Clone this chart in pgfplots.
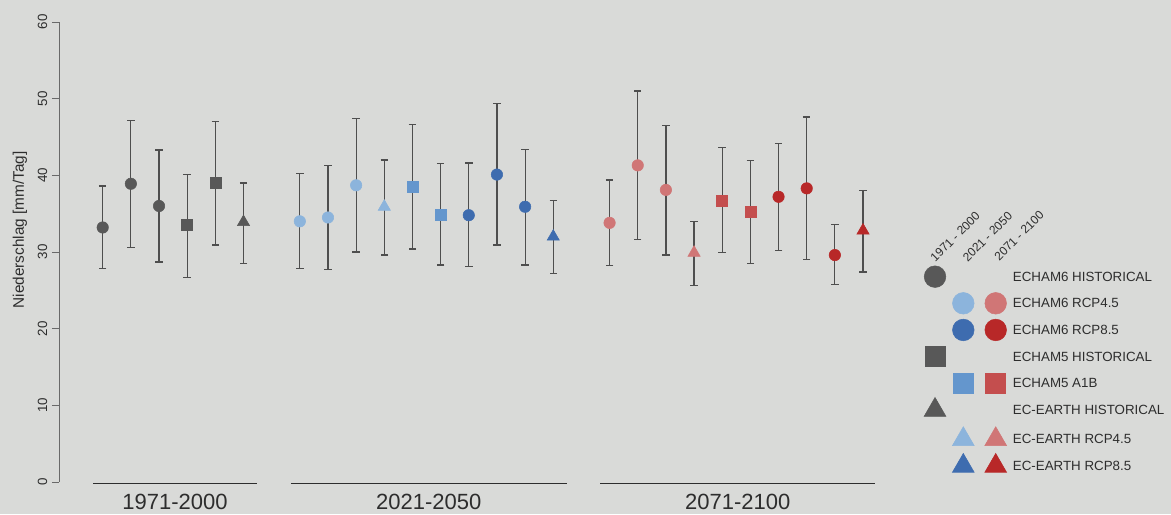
\documentclass[border=0pt]{standalone}
\usepackage{pgfplots}
\pgfplotsset{compat=1.18}
\usepackage{pgfplotstable}
\usepackage{fontspec}
\setmainfont{Liberation Sans}
\usetikzlibrary{backgrounds}

\definecolor{bgcol}{RGB}{217,218,216}
\definecolor{axcol}{RGB}{105,105,105}
\definecolor{txtcol}{RGB}{45,45,45}
\definecolor{errcol}{RGB}{78,78,78}
\definecolor{hist}{RGB}{88,88,88}
\definecolor{lblue}{RGB}{140,180,220}
\definecolor{mblue}{RGB}{100,150,205}
\definecolor{dblue}{RGB}{62,108,175}
\definecolor{lred}{RGB}{208,118,118}
\definecolor{mred}{RGB}{196,78,78}
\definecolor{dred}{RGB}{184,40,40}

% columns: position, mean, lower and upper end of the range
\pgfplotstableread{
x y lo hi
1 33.2 27.8 38.6
2 38.9 30.6 47.2
3 36.0 28.7 43.3
}\echamSixHist
\pgfplotstableread{
x y lo hi
4 33.5 26.7 40.1
5 39.0 30.9 47.0
}\echamFiveHist
\pgfplotstableread{
x y lo hi
6 33.9 28.5 39.0
}\ecearthHist
\pgfplotstableread{
x y lo hi
8 34.0 27.8 40.2
9 34.5 27.7 41.3
10 38.7 30.0 47.4
}\echamSixFourMid
\pgfplotstableread{
x y lo hi
11 35.9 29.6 42.0
}\ecearthFourMid
\pgfplotstableread{
x y lo hi
12 38.5 30.4 46.6
13 34.9 28.3 41.5
}\echamFiveMid
\pgfplotstableread{
x y lo hi
14 34.8 28.1 41.6
15 40.1 30.9 49.4
16 35.9 28.3 43.4
}\echamSixEightMid
\pgfplotstableread{
x y lo hi
17 32.0 27.2 36.7
}\ecearthEightMid
\pgfplotstableread{
x y lo hi
19 33.8 28.2 39.4
20 41.3 31.6 51.0
21 38.1 29.6 46.5
}\echamSixFourEnd
\pgfplotstableread{
x y lo hi
22 29.9 25.6 34.0
}\ecearthFourEnd
\pgfplotstableread{
x y lo hi
23 36.7 29.9 43.6
24 35.2 28.5 41.9
}\echamFiveEnd
\pgfplotstableread{
x y lo hi
25 37.2 30.2 44.2
26 38.3 29.0 47.6
27 29.6 25.8 33.6
}\echamSixEightEnd
\pgfplotstableread{
x y lo hi
28 32.8 27.4 38.0
}\ecearthEightEnd

\pgfplotsset{
  errs/.style={
    error bars/.cd, y dir=both, y explicit,
    error bar style={draw=errcol, line width=0.9pt, solid},
    error mark=-,
    error mark options={rotate=90, draw=errcol, line width=0.9pt, mark size=2.8pt}},
  circ/.style={only marks, mark=*, mark size=4.3pt, color=#1},
  sq/.style={only marks, mark=square*, mark size=4.1pt, color=#1},
  tri/.style={only marks, mark=triangle*, mark size=5.3pt, color=#1},
  lcirc/.style={only marks, mark=*, mark size=8.1pt, color=#1},
  lsq/.style={only marks, mark=square*, mark size=7.5pt, color=#1},
  ltri/.style={only marks, mark=triangle*, mark size=9.4pt, color=#1},
}
% one model run per point: range as bar with caps, mean as filled mark
\newcommand{\series}[2]{\addplot[#1, errs] table[x=x, y=y,
  y error plus expr=\thisrow{hi}-\thisrow{y},
  y error minus expr=\thisrow{y}-\thisrow{lo}] {#2};}

\begin{document}
\begin{tikzpicture}
\begin{axis}[
  x=21.12pt, y=5.75pt,
  xmin=-0.552, xmax=28.5, ymin=0, ymax=60,
  axis x line=none, axis y line=left,
  y axis line style={-, draw=axcol, line width=0.6pt},
  ytick={0,10,...,60},
  tick align=outside, major tick length=5.25pt,
  ytick style={draw=axcol, line width=0.6pt},
  /pgf/number format/assume math mode=true,
  yticklabel style={rotate=90, anchor=south, font=\fontsize{10}{12}\selectfont, text=txtcol},
  ylabel={Niederschlag [mm/Tag]},
  ylabel style={at={(axis description cs:-0.0477,0.548)}, anchor=center,
    font=\fontsize{11.5}{13}\selectfont, text=txtcol},
  clip=false,
]
% overall extent of the figure
\path (axis cs:-2.647,-4.174) rectangle (axis cs:38.937,62.87);

\series{circ=hist}{\echamSixHist}
\series{sq=hist}{\echamFiveHist}
\series{tri=hist}{\ecearthHist}
\series{circ=lblue}{\echamSixFourMid}
\series{tri=lblue}{\ecearthFourMid}
\series{sq=mblue}{\echamFiveMid}
\series{circ=dblue}{\echamSixEightMid}
\series{tri=dblue}{\ecearthEightMid}
\series{circ=lred}{\echamSixFourEnd}
\series{tri=lred}{\ecearthFourEnd}
\series{sq=mred}{\echamFiveEnd}
\series{circ=dred}{\echamSixEightEnd}
\series{tri=dred}{\ecearthEightEnd}

% period brackets
\addplot[draw=txtcol, line width=0.8pt] coordinates {(0.656,-0.17) (6.48,-0.17)};
\addplot[draw=txtcol, line width=0.8pt] coordinates {(7.68,-0.17) (17.48,-0.17)};
\addplot[draw=txtcol, line width=0.8pt] coordinates {(18.67,-0.17) (28.42,-0.17)};
\node[font=\fontsize{16.5}{18}\selectfont, text=txtcol] at (axis cs:3.57,-2.61) {1971-2000};
\node[font=\fontsize{16.5}{18}\selectfont, text=txtcol] at (axis cs:12.58,-2.61) {2021-2050};
\node[font=\fontsize{16.5}{18}\selectfont, text=txtcol] at (axis cs:23.55,-2.61) {2071-2100};

% legend
\node[rotate=45, inner sep=0pt, font=\fontsize{9}{10}\selectfont, text=txtcol] at (axis cs:31.27,31.99) {1971 - 2000};
\node[rotate=45, inner sep=0pt, font=\fontsize{9}{10}\selectfont, text=txtcol] at (axis cs:32.42,31.99) {2021 - 2050};
\node[rotate=45, inner sep=0pt, font=\fontsize{9}{10}\selectfont, text=txtcol] at (axis cs:33.54,32.11) {2071 - 2100};

\addplot[lcirc=hist] coordinates {(30.557,26.78)};
\addplot[lcirc=lblue] coordinates {(31.561,23.31)};
\addplot[lcirc=lred] coordinates {(32.712,23.31)};
\addplot[lcirc=dblue] coordinates {(31.561,19.83)};
\addplot[lcirc=dred] coordinates {(32.712,19.83)};
\addplot[lsq=hist] coordinates {(30.557,16.34)};
\addplot[lsq=mblue] coordinates {(31.561,12.87)};
\addplot[lsq=mred] coordinates {(32.712,12.87)};
\addplot[ltri=hist] coordinates {(30.557,9.39)};
\addplot[ltri=lblue] coordinates {(31.561,5.57)};
\addplot[ltri=lred] coordinates {(32.712,5.57)};
\addplot[ltri=dblue] coordinates {(31.561,2.09)};
\addplot[ltri=dred] coordinates {(32.712,2.09)};

\foreach \v/\t in {26.78/ECHAM6 HISTORICAL, 23.31/ECHAM6 RCP4.5, 19.83/ECHAM6 RCP8.5,
  16.34/ECHAM5 HISTORICAL, 12.87/ECHAM5 A1B, 9.39/EC-EARTH HISTORICAL,
  5.57/EC-EARTH RCP4.5, 2.09/EC-EARTH RCP8.5}{
  \edef\tmp{\noexpand\node[anchor=west, inner sep=0pt, font=\noexpand\fontsize{10}{12}\noexpand\selectfont, text=txtcol] at (axis cs:33.315,\v) {\t};}
  \tmp
}
\end{axis}
\begin{scope}[on background layer]
\fill[bgcol] (current bounding box.south west) rectangle (current bounding box.north east);
\end{scope}
\end{tikzpicture}
\end{document}
